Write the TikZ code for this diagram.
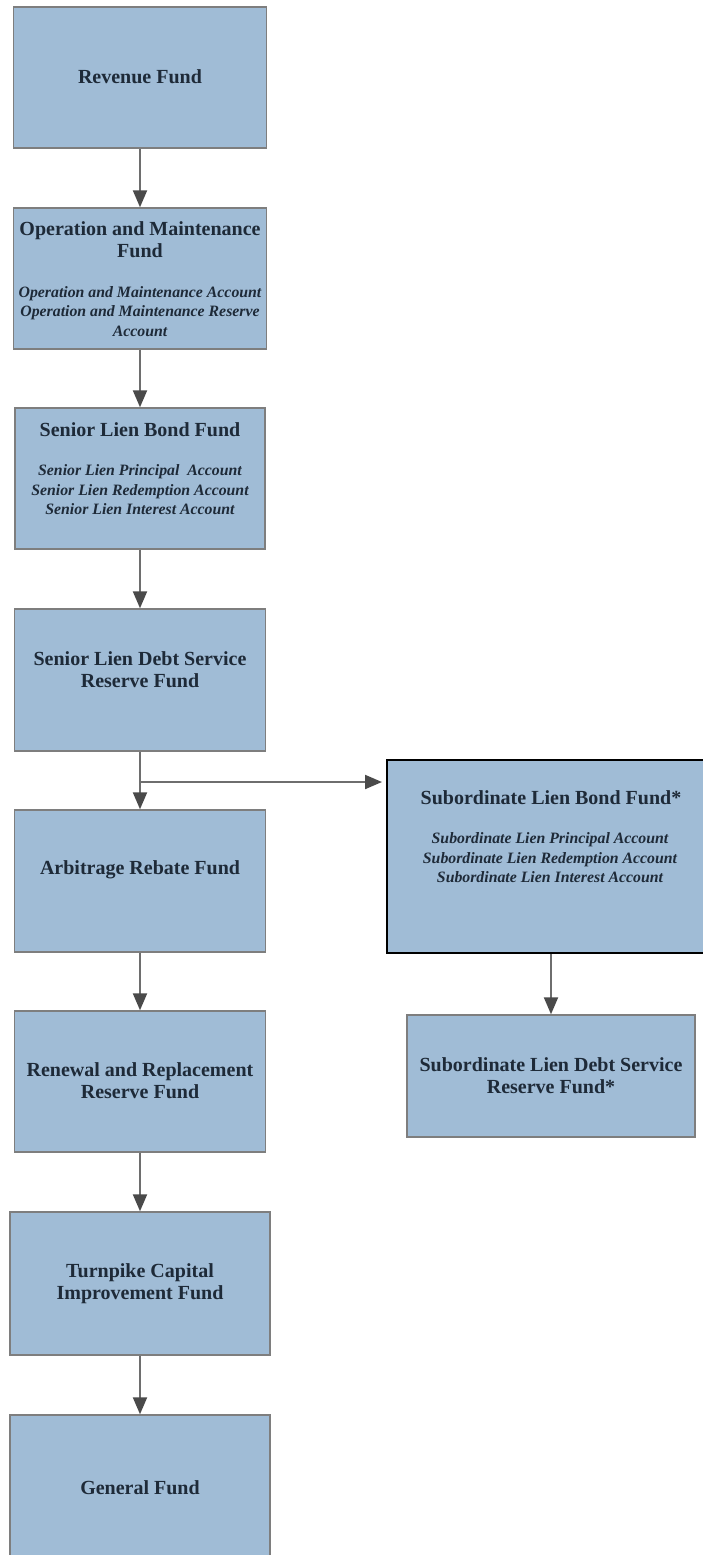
\documentclass[tikz,border=0pt]{standalone}
\usepackage{fontspec}
\setmainfont{Liberation Serif}
\usetikzlibrary{arrows.meta}
\definecolor{boxfill}{HTML}{A0BCD6}
\definecolor{boxline}{HTML}{7E7E7E}
\definecolor{txt}{HTML}{1E2A38}
\definecolor{arrline}{HTML}{6E6E6E}
\definecolor{arrhead}{HTML}{4A4A4A}
\tikzset{
  fund/.style={draw=boxline, line width=1.4pt, fill=boxfill, inner sep=0pt},
  subfund/.style={draw=black, line width=2pt, fill=boxfill, inner sep=0pt},
  ttl/.style={text=txt, align=center, inner sep=0pt, font=\fontsize{20}{22}\selectfont\bfseries},
  acc/.style={text=txt, align=center, inner sep=0pt, font=\fontsize{15.8}{19.5}\selectfont\bfseries\itshape},
  arr/.style={draw=arrline, line width=2pt, -{Triangle[width=14pt,length=17pt,fill=arrhead,color=arrhead]}}
}
\begin{document}
\begin{tikzpicture}[x=1pt,y=-1pt]
\useasboundingbox (0,0) rectangle (703,1555);
% left column boxes
\node[fund, minimum width=253, minimum height=141] (rev) at (140,77.5) {};
\node[fund, minimum width=253, minimum height=141] (om) at (140,278.5) {};
\node[fund, minimum width=250, minimum height=141] (slb) at (140,478.5) {};
\node[fund, minimum width=251, minimum height=142] (sdsrf) at (140,680) {};
\node[fund, minimum width=251, minimum height=142] (arb) at (140,881) {};
\node[fund, minimum width=251, minimum height=141] (rr) at (140,1081.5) {};
\node[fund, minimum width=260, minimum height=143] (tc) at (140,1283.5) {};
\node[fund, minimum width=260, minimum height=146] (gen) at (140,1488) {};
% right column boxes
\node[subfund, minimum width=320, minimum height=193] (slbs) at (547,856.5) {};
\node[fund, minimum width=288, minimum height=122] (sdsrfs) at (551,1076) {};
% texts
\node[ttl] (t1) at (140,77) {Revenue Fund};
\node[ttl] (t2) at (140,240) {Operation and Maintenance\\Fund};
\node[acc] (a2) at (140,311.5) {Operation and Maintenance Account\\Operation and Maintenance Reserve\\Account};
\node[ttl] (t3) at (140,430) {Senior Lien Bond Fund};
\node[acc] (a3) at (140,490) {Senior Lien Principal\ \ Account\\Senior Lien Redemption Account\\Senior Lien Interest Account};
\node[ttl] (t4) at (140,670) {Senior Lien Debt Service\\Reserve Fund};
\node[ttl] (t5) at (140,870) {Arbitrage Rebate Fund};
\node[ttl] (t6) at (140,1080.5) {Renewal and Replacement\\Reserve Fund};
\node[ttl] (t7) at (140,1283.5) {Turnpike Capital\\Improvement Fund};
\node[ttl] (t8) at (140,1488) {General Fund};
\node[ttl] (t9) at (551,798) {Subordinate Lien Bond Fund*};
\node[acc] (a9) at (550,858) {Subordinate Lien Principal Account\\Subordinate Lien Redemption Account\\Subordinate Lien Interest Account};
\node[ttl] (t10) at (551,1076) {Subordinate Lien Debt Service\\Reserve Fund*};
% connectors
\draw[arr] (rev.south) -- (om.north);
\draw[arr] (om.south) -- (slb.north);
\draw[arr] (slb.south) -- (sdsrf.north);
\draw[arr] (sdsrf.south) -- (arb.north);
\draw[arr] (arb.south) -- (rr.north);
\draw[arr] (rr.south) -- (tc.north);
\draw[arr] (tc.south) -- (gen.north);
\coordinate (br) at (140,782);
\draw[arr, shorten >=4pt] (br) -- (br -| slbs.west);
\draw[arr] (sdsrfs.north |- slbs.south) -- (sdsrfs.north);
\end{tikzpicture}
\end{document}
